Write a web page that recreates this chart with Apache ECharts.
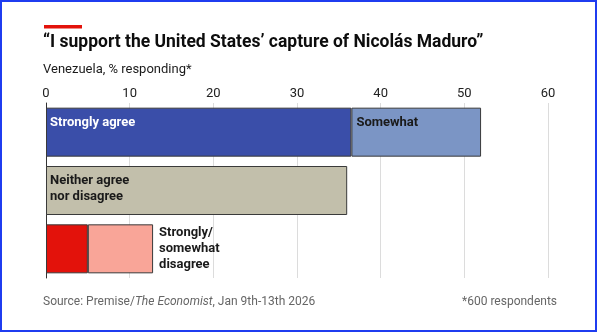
<!DOCTYPE html>
<html><head><meta charset="utf-8">
<script src="https://cdn.jsdelivr.net/npm/echarts@6/dist/echarts.min.js"></script>
<style>html,body{margin:0;padding:0;background:#fff}#c{width:597px;height:332px;box-sizing:border-box;border:2px solid #1f3cf0}</style>
</head><body><div id="c"></div>
<script>
const categories = ['Agree', 'Neither', 'Disagree'];
const strongValues = [36.5, 36.0, 5.0];
const somewhatValues = [15.5, 0, 7.8];
const xTicks = [0, 10, 20, 30, 40, 50, 60];
const strongColors = ['#3a4ea9', '#c2bfab', '#e3120b'];
const somewhatColors = ['#7b95c5', '#c2bfab', '#f9a598'];
const strongLabels = ['Strongly agree', 'Neither agree\nnor disagree', ''];

const chart = echarts.init(document.getElementById('c'), null, {renderer: 'canvas'});
const F = 'Roboto, "Noto Sans", sans-serif';
const lbl = {fontFamily: F, fontWeight: 'bold', fontSize: 13, lineHeight: 16};
chart.setOption({
  animation: false,
  textStyle: {fontFamily: F},
  grid: {left: 44, right: 47, top: 101, bottom: 52},
  xAxis: {
    type: 'value', position: 'top', min: xTicks[0], max: xTicks[xTicks.length - 1], interval: 10,
    axisLine: {show: false}, axisTick: {show: false},
    axisLabel: {color: '#222', fontSize: 13, margin: 3, fontFamily: F},
    splitLine: {lineStyle: {color: '#dcdcdc', width: 1}}
  },
  yAxis: {
    type: 'category', data: categories, inverse: true,
    axisLine: {show: true, lineStyle: {color: '#333', width: 1}},
    axisTick: {show: false}, axisLabel: {show: false}
  },
  series: [
    {
      type: 'bar', stack: 's', barWidth: 49,
      itemStyle: {borderColor: '#3a3a3a', borderWidth: 1},
      data: strongValues.map((v, i) => ({
        value: v, itemStyle: {color: strongColors[i]},
        label: Object.assign({show: !!strongLabels[i], position: 'insideTopLeft', distance: 0,
          offset: [4, 7], formatter: strongLabels[i], color: i === 0 ? '#fff' : '#1a1a1a'}, lbl)
      }))
    },
    {
      type: 'bar', stack: 's', barWidth: 49,
      itemStyle: {borderColor: '#3a3a3a', borderWidth: 1},
      data: somewhatValues.map((v, i) => ({
        value: v || null, itemStyle: {color: somewhatColors[i]},
        label: i === 0 ? Object.assign({show: true, position: 'insideTopLeft', distance: 0, offset: [5, 7], formatter: 'Somewhat', color: '#1a1a1a'}, lbl)
             : i === 2 ? Object.assign({show: true, position: 'right', distance: 6, formatter: 'Strongly/\nsomewhat\ndisagree', color: '#1a1a1a'}, lbl)
             : {show: false}
      }))
    }
  ],
  graphic: [
    {type: 'rect', left: 42, top: 23, shape: {width: 38, height: 3.5}, style: {fill: '#e3120b'}},
    {type: 'text', left: 41, top: 32, style: {text: '\u201cI support the United States\u2019 capture of Nicol\u00e1s Maduro\u201d', font: 'bold 17.5px ' + F, fill: '#0d0d0d'}},
    {type: 'text', left: 41, top: 61, style: {text: 'Venezuela, % responding*', font: '13px ' + F, fill: '#1a1a1a'}},
    {type: 'text', left: 41, top: 294, style: {rich: {a: {font: '12px ' + F, fill: '#666'}, i: {font: 'italic 12px ' + F, fill: '#666'}}, text: '{a|Source: Premise/}{i|The Economist}{a|, Jan 9th-13th 2026}'}},
    {type: 'text', right: 38, top: 294, style: {text: '*600 respondents', font: '12px ' + F, fill: '#666'}}
  ]
});
</script></body></html>
